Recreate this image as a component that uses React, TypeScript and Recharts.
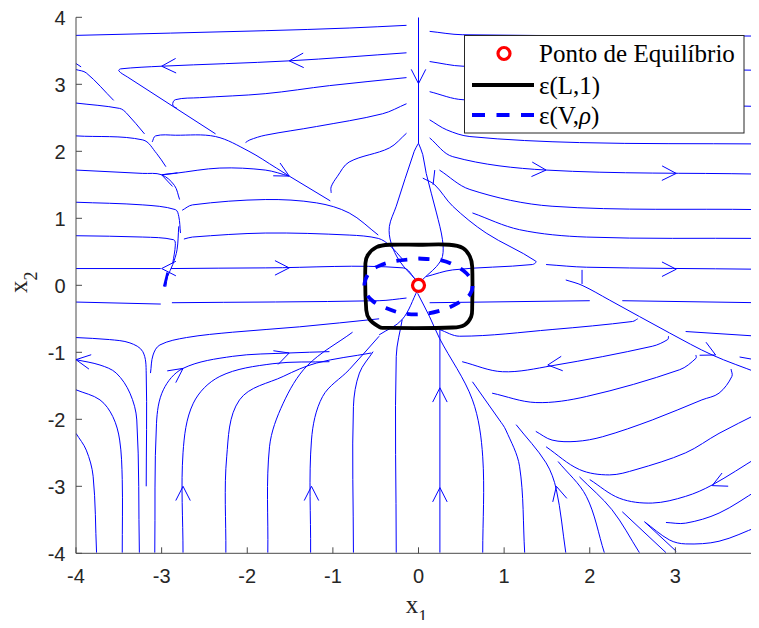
import React from 'react';
import { ComposedChart, Line, Scatter, XAxis, YAxis, Legend } from 'recharts';

type Pt = [number, number];

// axis ticks (both axes)
const axisTicks = [-4, -3, -2, -1, 0, 1, 2, 3, 4];

// streamlines, upper-left quadrant (x1, x2)
const upperLeftStreams: Pt[][] = [
  [[-4.0, 3.73], [-1.79, 3.8], [-0.81, 3.84], [-0.14, 3.88]],
  [[-0.14, 3.47], [-1.51, 3.35], [-3.0, 3.27], [-3.48, 3.23], [-3.5, 3.2], [-3.4, 3.11], [-2.37, 2.26]],
  [[-0.14, 3.1], [-1.04, 2.98], [-1.79, 2.86], [-2.56, 2.8], [-2.84, 2.77], [-2.87, 2.69], [-2.82, 2.64]],
  [[-0.14, 2.71], [-0.42, 2.56], [-1.19, 2.37], [-1.79, 2.24], [-1.97, 2.17], [-2.02, 2.13]],
  [[-0.14, 2.27], [-0.34, 2.05], [-0.81, 1.84], [-0.95, 1.62], [-1.02, 1.47], [-1.02, 1.38]],
  [[-4.0, 3.31], [-3.94, 3.26]],
  [[-4.0, 3.22], [-3.88, 3.17], [-3.56, 2.76]],
  [[-4.0, 2.72], [-3.49, 2.64], [-3.41, 2.57], [-3.2, 2.26]],
  [[-4.0, 2.23], [-3.22, 2.17], [-3.06, 1.97], [-2.95, 1.77]],
  [[-3.11, 2.14], [-3.07, 2.23], [-2.84, 2.24], [-2.37, 2.22], [-1.98, 2.0], [-1.66, 1.75], [-1.51, 1.63], [-1.03, 1.26]],
  [[-4.0, 1.72], [-3.22, 1.67], [-3.0, 1.65], [-2.85, 1.49], [-2.79, 1.28]],
  [[-2.99, 1.65], [-2.85, 1.67], [-2.32, 1.75], [-1.79, 1.72], [-1.51, 1.63]],
  [[-4.0, 1.24], [-3.22, 1.2], [-2.84, 1.13], [-2.8, 1.03], [-2.78, 0.78]],
  [[-2.76, 1.12], [-2.64, 1.2], [-1.79, 1.28], [-1.19, 1.23], [-0.81, 1.08], [-0.47, 0.75]],
  [[-4.0, 0.74], [-3.22, 0.72], [-2.86, 0.68], [-2.84, 0.6], [-2.87, 0.33]],
  [[-2.74, 0.69], [-2.64, 0.72], [-1.79, 0.78], [-0.81, 0.75], [-0.47, 0.7], [-0.34, 0.6], [-0.18, 0.38]],
  [[-4.0, 0.25], [-3.01, 0.25]],
  [[-2.89, 0.25], [-1.79, 0.26], [-0.18, 0.26], [-0.03, 0.08]],
  [[-2.8, 0.88], [-2.82, 0.53], [-2.87, 0.31], [-2.93, 0.13], [-2.95, -0.02]],
  [[0, 4.0], [0, 2.12]],
  [[0, 2.12], [-0.05, 2.0], [-0.26, 1.18], [-0.34, 0.88], [-0.32, 0.63], [-0.22, 0.36], [-0.03, 0.08]],
];

// streamlines, upper-right quadrant
const upperRightStreams: Pt[][] = [
  [[0, 2.12], [0.05, 1.95], [0.09, 1.67], [0.21, 1.08], [0.28, 0.68], [0.28, 0.43], [0.21, 0.28], [0.11, 0.16], [0.01, 0.04]],
  [[0.13, 3.79], [0.51, 3.74], [3.97, 3.72]],
  [[0.13, 3.34], [0.52, 3.27], [3.97, 3.21]],
  [[0.13, 2.89], [0.52, 2.77], [3.97, 2.67]],
  [[0.13, 2.47], [0.33, 2.32], [0.6, 2.22], [1.88, 2.13], [3.97, 2.11]],
  [[0.13, 2.2], [0.4, 1.92], [1.49, 1.72], [3.97, 1.66]],
  [[0.245, 1.72], [0.6, 1.43], [1.56, 1.18], [3.97, 1.13]],
  [[0.63, 1.08], [1.18, 0.83], [1.96, 0.72], [3.97, 0.7]],
  [[1.49, 0.31], [1.96, 0.27], [3.97, 0.24]],
  [[0.05, 1.6], [0.19, 1.5], [0.4, 1.18], [0.79, 0.78], [1.37, 0.36], [1.33, 0.31], [0.4, 0.23], [0.09, 0.13]],
  [[0.19, 1.72], [0.17, 1.5]],
];

// streamlines, lower-left quadrant
const lowerLeftStreams: Pt[][] = [
  [[-4.0, -2.21], [-3.88, -2.46], [-3.8, -2.85], [-3.76, -3.99]],
  [[-4.0, -1.56], [-3.72, -1.71], [-3.57, -1.96], [-3.49, -2.31], [-3.46, -2.9], [-3.46, -3.99]],
  [[-4.0, -1.11], [-3.72, -1.19], [-3.53, -1.31], [-3.37, -1.61], [-3.29, -2.01], [-3.26, -3.99]],
  [[-4.0, -0.78], [-3.61, -0.81], [-3.37, -0.86], [-3.22, -0.99], [-3.18, -1.31], [-3.18, -3.0]],
  [[-3.13, -1.31], [-3.1, -1.04], [-3.02, -0.89], [-2.71, -0.78], [-2.17, -0.7], [-1.39, -0.62], [-0.46, -0.5]],
  [[-3.08, -3.99], [-3.06, -2.06], [-2.98, -1.56], [-2.75, -1.24], [-2.17, -1.06], [-1.51, -1.01], [-1.04, -0.99]],
  [[-2.75, -3.99], [-2.75, -2.5], [-2.63, -1.76], [-2.32, -1.36], [-1.7, -1.17], [-1.04, -1.14]],
  [[-2.25, -3.99], [-2.24, -2.56], [-2.09, -1.71], [-1.58, -1.36], [-1.19, -1.16], [-0.55, -1.01]],
  [[-1.76, -3.99], [-1.74, -2.41], [-1.58, -1.76], [-1.3, -1.2], [-0.77, -0.7]],
  [[-1.26, -3.99], [-1.25, -2.31], [-1.12, -1.66], [-0.81, -1.26], [-0.46, -0.76]],
  [[-0.76, -3.99], [-0.76, -1.81], [-0.69, -1.31], [-0.53, -0.99]],
  [[-0.46, -0.74], [-0.19, -0.51], [-0.01, -0.07]],
  [[-4.0, -0.25], [-3.01, -0.28]],
  [[-2.88, -0.26], [-0.46, -0.23], [-0.14, -0.19]],
];

// streamlines, lower-right quadrant
const lowerRightStreams: Pt[][] = [
  [[1.72, 0.08], [1.91, 0.0], [2.23, -0.22], [2.93, -0.71], [3.43, -1.04], [3.97, -1.31]],
  [[1.91, 0.23], [1.91, 0.02]],
  [[0.13, -0.26], [2.0, -0.23]],
  [[2.38, -0.23], [3.97, -0.26]],
  [[0.245, -0.66], [0.48, -0.76], [1.56, -0.66], [2.5, -0.54], [2.56, -0.5]],
  [[3.12, -0.69], [3.97, -0.76]],
  [[0.51, -1.14], [0.98, -1.29], [1.56, -1.2], [2.73, -0.91], [2.91, -0.81], [2.92, -0.76]],
  [[3.75, -1.07], [3.97, -1.12]],
  [[0.86, -1.61], [1.37, -1.75], [1.96, -1.66], [3.05, -1.26], [3.24, -1.09], [3.24, -1.04]],
  [[3.65, -1.25], [3.66, -1.36], [3.51, -1.61], [3.31, -1.71], [2.73, -2.01], [2.15, -2.26], [1.84, -2.33], [1.56, -2.31], [1.37, -2.18]],
  [[3.97, -1.91], [3.51, -2.21], [3.12, -2.5], [2.54, -2.75], [2.23, -2.83], [1.88, -2.75], [1.49, -2.41]],
  [[3.97, -2.56], [3.43, -2.98], [3.12, -3.15], [2.73, -3.25], [2.35, -3.18], [2.0, -2.9]],
  [[3.97, -3.05], [3.51, -3.4], [3.12, -3.55], [2.89, -3.54]],
  [[3.97, -3.6], [3.51, -3.82], [3.12, -3.86], [2.93, -3.8], [2.64, -3.53]],
  [[2.64, -3.53], [3.01, -3.97]],
  [[-0.19, -0.51], [-0.26, -1.06], [-0.26, -3.99]],
  [[0.25, -0.66], [0.25, -3.99]],
  [[-0.01, -0.12], [0.13, -0.47], [0.245, -0.79], [0.63, -1.71], [0.75, -2.56], [0.75, -3.99]],
  [[0.63, -1.44], [0.945, -2.01], [1.02, -2.16], [1.18, -2.7], [1.24, -3.99]],
  [[1.14, -2.08], [1.49, -2.65], [1.61, -3.05], [1.72, -3.99]],
  [[1.63, -2.63], [1.96, -3.15], [2.17, -3.99]],
  [[1.88, -2.86], [2.26, -3.35], [2.58, -3.99]],
  [[2.38, -3.38], [2.89, -3.99]],
];

// short heavy fragment near (-2.95, 0)
const heavyFragment: Pt[] = [[-2.93, 0.19], [-2.97, -0.02]];

// arrowheads: x1, x2, heading in screen degrees (0 = right, 90 = down)
const arrowHeads: [number, number, number][] = [
  [-1.51, 3.35, 178], [-3.0, 3.27, 178], [0, 3.01, 90], [1.49, 1.72, 3], [3.01, 1.67, 1],
  [3.01, 0.24, 0], [-1.51, 1.63, 28], [-3.0, 1.65, 200], [-3.0, 0.25, 180], [-1.51, 0.26, 0],
  [-4.0, -1.11, 189], [-2.75, -1.24, -36], [-1.51, -1.01, -19], [-2.75, -3.0, -90], [-1.25, -3.0, -90],
  [0.25, -1.53, -90], [0.25, -3.02, -90], [1.61, -3.0, -104], [1.51, -1.19, 174], [3.47, -1.04, 26],
  [3.43, -2.99, 155],
];

// level set ε(L,1)
const levelSetL: Pt[] = [
  [0, 0.605], [0.36, 0.605], [0.52, 0.555], [0.6, 0.43], [0.627, 0.28], [0.627, -0.32], [0.615, -0.47],
  [0.54, -0.59], [0.4, -0.63], [-0.42, -0.635], [-0.46, -0.62], [-0.57, -0.51], [-0.61, -0.37],
  [-0.62, 0.33], [-0.59, 0.455], [-0.49, 0.57], [-0.34, 0.605], [0, 0.605],
];

// level set ε(V,ρ)
const levelSetV: Pt[] = [
  [0, 0.4], [0.28, 0.37], [0.42, 0.3], [0.56, 0.18], [0.63, 0.03], [0.6, -0.14], [0.48, -0.25],
  [0.3, -0.36], [0.05, -0.43], [-0.18, -0.42], [-0.38, -0.34], [-0.53, -0.24], [-0.61, -0.12],
  [-0.63, 0.03], [-0.57, 0.2], [-0.46, 0.29], [-0.28, 0.36], [0, 0.4],
];

const equilibrium: Pt = [0, 0];

// layout
const CHART_W = 760;
const CHART_H = 620;
const MARGIN = { top: 9.3, right: 7, bottom: 14.7, left: 8 };
const Y_AXIS_W = 60;
const X_AXIS_H = 60;
const PLOT_LEFT = MARGIN.left + Y_AXIS_W;
const PLOT_RIGHT = CHART_W - MARGIN.right;
const PLOT_TOP = MARGIN.top;
const PLOT_BOTTOM = CHART_H - MARGIN.bottom - X_AXIS_H;

const BLUE = '#0000ff';
const AXIS_COLOR = '#4a4a4a';
const TEXT_COLOR = '#262626';
const SANS = '"Liberation Sans", Arial, Helvetica, sans-serif';
const SERIF = '"Liberation Serif", "Times New Roman", serif';

const toRows = (pts: Pt[]) => pts.map(([x, y]) => ({ x, y }));

// smooth path through points with tangents limited to a third of each segment
const smoothCurve = (context: any) => {
  let pts: number[][] = [];
  return {
    areaStart() {},
    areaEnd() {},
    lineStart() {
      pts = [];
    },
    point(x: number, y: number) {
      pts.push([+x, +y]);
    },
    lineEnd() {
      const n = pts.length;
      if (!n) return;
      context.moveTo(pts[0][0], pts[0][1]);
      if (n === 1) return;
      const tangent = (i: number) => {
        const a = pts[Math.max(0, i - 1)];
        const b = pts[Math.min(n - 1, i + 1)];
        const dx = b[0] - a[0];
        const dy = b[1] - a[1];
        const len = Math.hypot(dx, dy) || 1;
        return [dx / len, dy / len];
      };
      for (let i = 0; i < n - 1; i++) {
        const p1 = pts[i];
        const p2 = pts[i + 1];
        const d = Math.hypot(p2[0] - p1[0], p2[1] - p1[1]) / 3;
        const t1 = tangent(i);
        const t2 = tangent(i + 1);
        context.bezierCurveTo(
          p1[0] + t1[0] * d, p1[1] + t1[1] * d,
          p2[0] - t2[0] * d, p2[1] - t2[1] * d,
          p2[0], p2[1]
        );
      }
    },
  };
};

const ArrowGlyph = (props: any) => {
  const { cx, cy, payload } = props;
  if (cx == null || cy == null) return null;
  const a = (payload.heading * Math.PI) / 180;
  const len = 16;
  const spread = (27 * Math.PI) / 180;
  const w1x = cx - len * Math.cos(a - spread);
  const w1y = cy - len * Math.sin(a - spread);
  const w2x = cx - len * Math.cos(a + spread);
  const w2y = cy - len * Math.sin(a + spread);
  return (
    <path d={`M${w1x},${w1y}L${cx},${cy}L${w2x},${w2y}`} fill="none" stroke={BLUE} strokeWidth={1} />
  );
};

const EquilibriumMarker = (props: any) => {
  const { cx, cy } = props;
  if (cx == null || cy == null) return null;
  return <circle cx={cx} cy={cy} r={6} fill="#ffffff" stroke="#ff0000" strokeWidth={3.2} />;
};

const XTick = (props: any) => {
  const { x, y, payload } = props;
  return (
    <g>
      <line x1={x} y1={y} x2={x} y2={y - 6} stroke={AXIS_COLOR} strokeWidth={1} />
      <text x={x} y={y + 29.7} textAnchor="middle" fontFamily={SANS} fontSize={20} fill={TEXT_COLOR}>
        {payload.value}
      </text>
    </g>
  );
};

const YTick = (props: any) => {
  const { x, y, payload } = props;
  return (
    <g>
      <line x1={x} y1={y} x2={x + 6} y2={y} stroke={AXIS_COLOR} strokeWidth={1} />
      <text x={x - 10.5} y={y + 7.2} textAnchor="end" fontFamily={SANS} fontSize={20} fill={TEXT_COLOR}>
        {payload.value}
      </text>
    </g>
  );
};

const XTitle = () => (
  <text
    x={(PLOT_LEFT + PLOT_RIGHT) / 2 - 2}
    y={PLOT_BOTTOM + 59.5}
    textAnchor="middle"
    fontFamily={SERIF}
    fontSize={25}
    fill={TEXT_COLOR}
  >
    x<tspan fontSize={18} dy={10}>1</tspan>
  </text>
);

const YTitle = () => (
  <text
    transform={`translate(19, ${(PLOT_TOP + PLOT_BOTTOM) / 2 - 3}) rotate(-90)`}
    textAnchor="middle"
    fontFamily={SERIF}
    fontSize={25}
    fill={TEXT_COLOR}
  >
    x<tspan fontSize={18} dy={10}>2</tspan>
  </text>
);

const LegendBox = () => (
  <svg width={281} height={99} style={{ display: 'block' }}>
    <rect x={0.5} y={0.5} width={279.5} height={97.5} fill="#ffffff" stroke={TEXT_COLOR} strokeWidth={1} />
    <circle cx={40} cy={18.5} r={6} fill="#ffffff" stroke="#ff0000" strokeWidth={3.2} />
    <text x={75} y={27} fontFamily={SERIF} fontSize={25} fill="#000000">Ponto de Equilíbrio</text>
    <line x1={8} y1={50} x2={70} y2={50} stroke="#000000" strokeWidth={4} />
    <text x={75} y={58.5} fontFamily={SERIF} fontSize={25} fill="#000000">ε(L,1)</text>
    <line x1={8} y1={80} x2={70} y2={80} stroke={BLUE} strokeWidth={4} strokeDasharray="13 11.5" />
    <text x={75} y={88.5} fontFamily={SERIF} fontSize={25} fill="#000000">
      ε(V,<tspan fontStyle="italic">ρ</tspan>)
    </text>
  </svg>
);

const allStreams: Pt[][] = [
  ...upperLeftStreams,
  ...upperRightStreams,
  ...lowerLeftStreams,
  ...lowerRightStreams,
];

export default function App() {
  const arrowRows = arrowHeads.map(([x, y, heading]) => ({ x, y, heading }));
  return (
    <div style={{ width: 751, height: CHART_H, overflow: 'hidden', marginBottom: -8, position: 'relative' }}>
      <ComposedChart width={CHART_W} height={CHART_H} margin={MARGIN}>
        <XAxis
          type="number"
          dataKey="x"
          domain={[-4, 4]}
          ticks={axisTicks}
          interval={0}
          allowDataOverflow
          height={X_AXIS_H}
          tickSize={0}
          tickMargin={0}
          tickLine={false}
          axisLine={{ stroke: AXIS_COLOR, strokeWidth: 1 }}
          tick={<XTick />}
          label={{ content: () => <XTitle /> }}
        />
        <YAxis
          type="number"
          dataKey="y"
          domain={[-4, 4]}
          ticks={axisTicks}
          interval={0}
          allowDataOverflow
          width={Y_AXIS_W}
          tickSize={0}
          tickMargin={0}
          tickLine={false}
          axisLine={{ stroke: AXIS_COLOR, strokeWidth: 1 }}
          tick={<YTick />}
          label={{ content: () => <YTitle /> }}
        />
        {allStreams.map((s, i) => (
          <Line
            key={`s${i}`}
            data={toRows(s)}
            dataKey="y"
            type={smoothCurve as any}
            stroke={BLUE}
            strokeWidth={1}
            dot={false}
            activeDot={false}
            legendType="none"
            isAnimationActive={false}
          />
        ))}
        <Line
          data={toRows(heavyFragment)}
          dataKey="y"
          type="linear"
          stroke={BLUE}
          strokeWidth={2.5}
          dot={false}
          activeDot={false}
          legendType="none"
          isAnimationActive={false}
        />
        <Line
          data={toRows(levelSetL)}
          dataKey="y"
          type={smoothCurve as any}
          stroke="#000000"
          strokeWidth={3.8}
          dot={false}
          activeDot={false}
          legendType="none"
          isAnimationActive={false}
        />
        <Line
          data={toRows(levelSetV)}
          dataKey="y"
          type={smoothCurve as any}
          stroke={BLUE}
          strokeWidth={3.8}
          strokeDasharray="11 11"
          dot={false}
          activeDot={false}
          legendType="none"
          isAnimationActive={false}
        />
        <Scatter data={arrowRows} dataKey="y" shape={<ArrowGlyph />} legendType="none" isAnimationActive={false} />
        <Scatter
          data={[{ x: equilibrium[0], y: equilibrium[1] }]}
          dataKey="y"
          shape={<EquilibriumMarker />}
          legendType="none"
          isAnimationActive={false}
        />
        <Legend
          layout="horizontal"
          verticalAlign="middle"
          align="center"
          wrapperStyle={{ position: 'absolute', left: 456, top: 27, width: 281, height: 99, margin: 0, padding: 0 }}
          content={() => <LegendBox />}
        />
      </ComposedChart>
    </div>
  );
}
